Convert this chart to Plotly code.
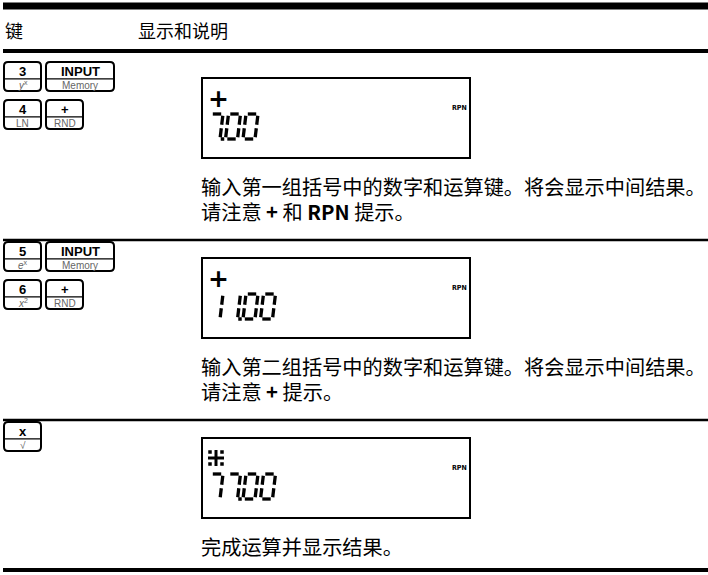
import plotly.graph_objects as go

# ---------------- data ----------------
header_labels = ["键", "显示和说明"]

step_keys = [
    [[("3", "<i>y</i><sup>x</sup>"), ("INPUT", "Memory")], [("4", "LN"), ("+", "RND")]],
    [[("5", "<i>e</i><sup>x</sup>"), ("INPUT", "Memory")], [("6", "<i>x</i><sup>2</sup>"), ("+", "RND")]],
    [[("x", "√")]],
]
display_ops = ["+", "+", "*"]
display_values = ["7.00", "11.00", "77.00"]
display_flags = ["RPN", "RPN", "RPN"]
descriptions = [
    ["输入第一组括号中的数字和运算键。将会显示中间结果。", "请注意 <b>+</b> 和 <b>RPN</b> 提示。"],
    ["输入第二组括号中的数字和运算键。将会显示中间结果。", "请注意 <b>+</b> 提示。"],
    ["完成运算并显示结果。"],
]

# ---------------- layout constants ----------------
W, H = 708, 575
FONT = "Noto Sans CJK SC"
row_tops = [62, 242, 422]          # top of first key row in each step
box_tops = [78, 258, 438]
box_left, box_right, box_h = 202, 470, 80
desc_y = [[186, 211], [366, 391], [546]]
rules = [(6, 7), (51, 4), (240, 2.5), (420, 2.5), (570, 4)]

fig = go.Figure()
shapes = []
annos = []

def rounded_rect(x0, y0, x1, y1, r=4):
    return (f"M{x0+r},{y0} L{x1-r},{y0} Q{x1},{y0} {x1},{y0+r} L{x1},{y1-r} "
            f"Q{x1},{y1} {x1-r},{y1} L{x0+r},{y1} Q{x0},{y1} {x0},{y1-r} "
            f"L{x0},{y0+r} Q{x0},{y0} {x0+r},{y0} Z")

# horizontal rules
for y, w in rules:
    shapes.append(dict(type="line", x0=3, x1=W, y0=y, y1=y, layer="below",
                       line=dict(color="black", width=w)))

# header
annos.append(dict(x=3, y=30, text=header_labels[0], xanchor="left", yanchor="middle",
                  showarrow=False, font=dict(family=FONT, size=18, color="black")))
annos.append(dict(x=136, y=30, text=header_labels[1], xanchor="left", yanchor="middle",
                  showarrow=False, font=dict(family=FONT, size=18, color="black")))

# keys
key_h, key_gap_y = 29, 9
small_w, wide_w, key_gap_x = 37, 68, 5
for si, rows in enumerate(step_keys):
    for ri, row in enumerate(rows):
        y0 = row_tops[si] + ri * (key_h + key_gap_y)
        y1 = y0 + key_h
        x = 4
        for top, bot in row:
            w = wide_w if top == "INPUT" else small_w
            shapes.append(dict(type="path", path=rounded_rect(x, y0, x + w, y1), layer="below",
                               line=dict(color="black", width=2), fillcolor="white"))
            ymid = y0 + key_h * 0.58
            shapes.append(dict(type="line", x0=x, x1=x + w, y0=ymid, y1=ymid, layer="below",
                               line=dict(color="black", width=1.2)))
            annos.append(dict(x=x + w / 2, y=(y0 + ymid) / 2 + 1, text=f"<b>{top}</b>",
                              showarrow=False, xanchor="center", yanchor="middle",
                              font=dict(family="Liberation Sans", size=13, color="black")))
            annos.append(dict(x=x + w / 2, y=(ymid + y1) / 2 + 0.5, text=bot,
                              showarrow=False, xanchor="center", yanchor="middle",
                              font=dict(family="Liberation Sans", size=10, color="#666")))
            x += w + key_gap_x

# seven segment definitions
SEG = {"0": "abcdef", "1": "bc", "2": "abged", "3": "abgcd", "4": "fgbc",
       "5": "afgcd", "6": "afgedc", "7": "abc", "8": "abcdefg", "9": "abcdfg"}

def seg_lines(x0, yt, w=12, h=25, g=1.8, s=0.12):
    h2 = h / 2
    raw = {
        "a": [(x0 + g, yt), (x0 + w - g, yt)],
        "b": [(x0 + w, yt + g), (x0 + w, yt + h2 - g)],
        "c": [(x0 + w, yt + h2 + g), (x0 + w, yt + h - g)],
        "d": [(x0 + g, yt + h), (x0 + w - g, yt + h)],
        "e": [(x0, yt + h2 + g), (x0, yt + h - g)],
        "f": [(x0, yt + g), (x0, yt + h2 - g)],
        "g": [(x0 + g, yt + h2), (x0 + w - g, yt + h2)],
    }
    out = {}
    for k, pts in raw.items():
        out[k] = [(px + s * (yt + h - py), py) for px, py in pts]
    return out

for i, (op, val, flag) in enumerate(zip(display_ops, display_values, display_flags)):
    bt = box_tops[i]
    shapes.append(dict(type="rect", x0=box_left, x1=box_right, y0=bt, y1=bt + box_h,
                       layer="below", line=dict(color="black", width=2), fillcolor="white"))
    # operator
    if op == "+":
        annos.append(dict(x=206, y=bt + 20, text="<b>+</b>", showarrow=False,
                          xanchor="left", yanchor="middle",
                          font=dict(family="DejaVu Sans", size=25, color="black")))
    else:
        cx, cy = 216, bt + 20
        fig.add_trace(go.Scatter(x=[cx - 8, cx + 8, None, cx, cx],
                                 y=[cy, cy, None, cy - 8, cy + 8],
                                 mode="lines", line=dict(color="black", width=3),
                                 hoverinfo="skip", showlegend=False))
        fig.add_trace(go.Scatter(x=[cx - 6, cx + 6, cx - 6, cx + 6],
                                 y=[cy - 6, cy - 6, cy + 6, cy + 6],
                                 mode="markers", marker=dict(symbol="square", size=3.5, color="black"),
                                 hoverinfo="skip", showlegend=False))
    annos.append(dict(x=box_right - 1, y=bt + 30, text=f"<b>{flag}</b>", showarrow=False,
                      xanchor="right", yanchor="middle",
                      font=dict(family="DejaVu Sans Condensed", size=7, color="black")))
    # seven-segment value
    xs, ys, dx, dy = [], [], [], []
    cell = 0
    x_start, yt = 208, bt + 36
    pitch = 17.5
    for ch in val:
        if ch == ".":
            x0 = x_start + (cell - 1) * pitch
            dx.append(x0 + 14.5)
            dy.append(yt + 25)
            continue
        x0 = x_start + cell * pitch
        segs = seg_lines(x0, yt)
        for k in SEG[ch]:
            (ax, ay), (bx, by) = segs[k]
            xs += [ax, bx, None]
            ys += [ay, by, None]
        cell += 1
    fig.add_trace(go.Scatter(x=xs, y=ys, mode="lines", line=dict(color="black", width=3.3),
                             hoverinfo="skip", showlegend=False))
    fig.add_trace(go.Scatter(x=dx, y=dy, mode="markers",
                             marker=dict(symbol="square", size=3.5, color="black"),
                             hoverinfo="skip", showlegend=False))

# descriptions
for lines, ys_ in zip(descriptions, desc_y):
    for t, y in zip(lines, ys_):
        annos.append(dict(x=199, y=y, text=t, showarrow=False, xanchor="left", yanchor="middle",
                          font=dict(family=FONT, size=20.2, color="black")))

fig.update_layout(
    width=W, height=H, margin=dict(l=0, r=0, t=0, b=0),
    paper_bgcolor="white", plot_bgcolor="white",
    xaxis=dict(range=[0, W], visible=False, fixedrange=True),
    yaxis=dict(range=[H, 0], visible=False, fixedrange=True),
    shapes=shapes, annotations=annos, showlegend=False,
)
fig.write_html("out.html", config={"displayModeBar": False},
               post_script="document.body.style.margin='0';document.body.style.overflow='hidden';")
